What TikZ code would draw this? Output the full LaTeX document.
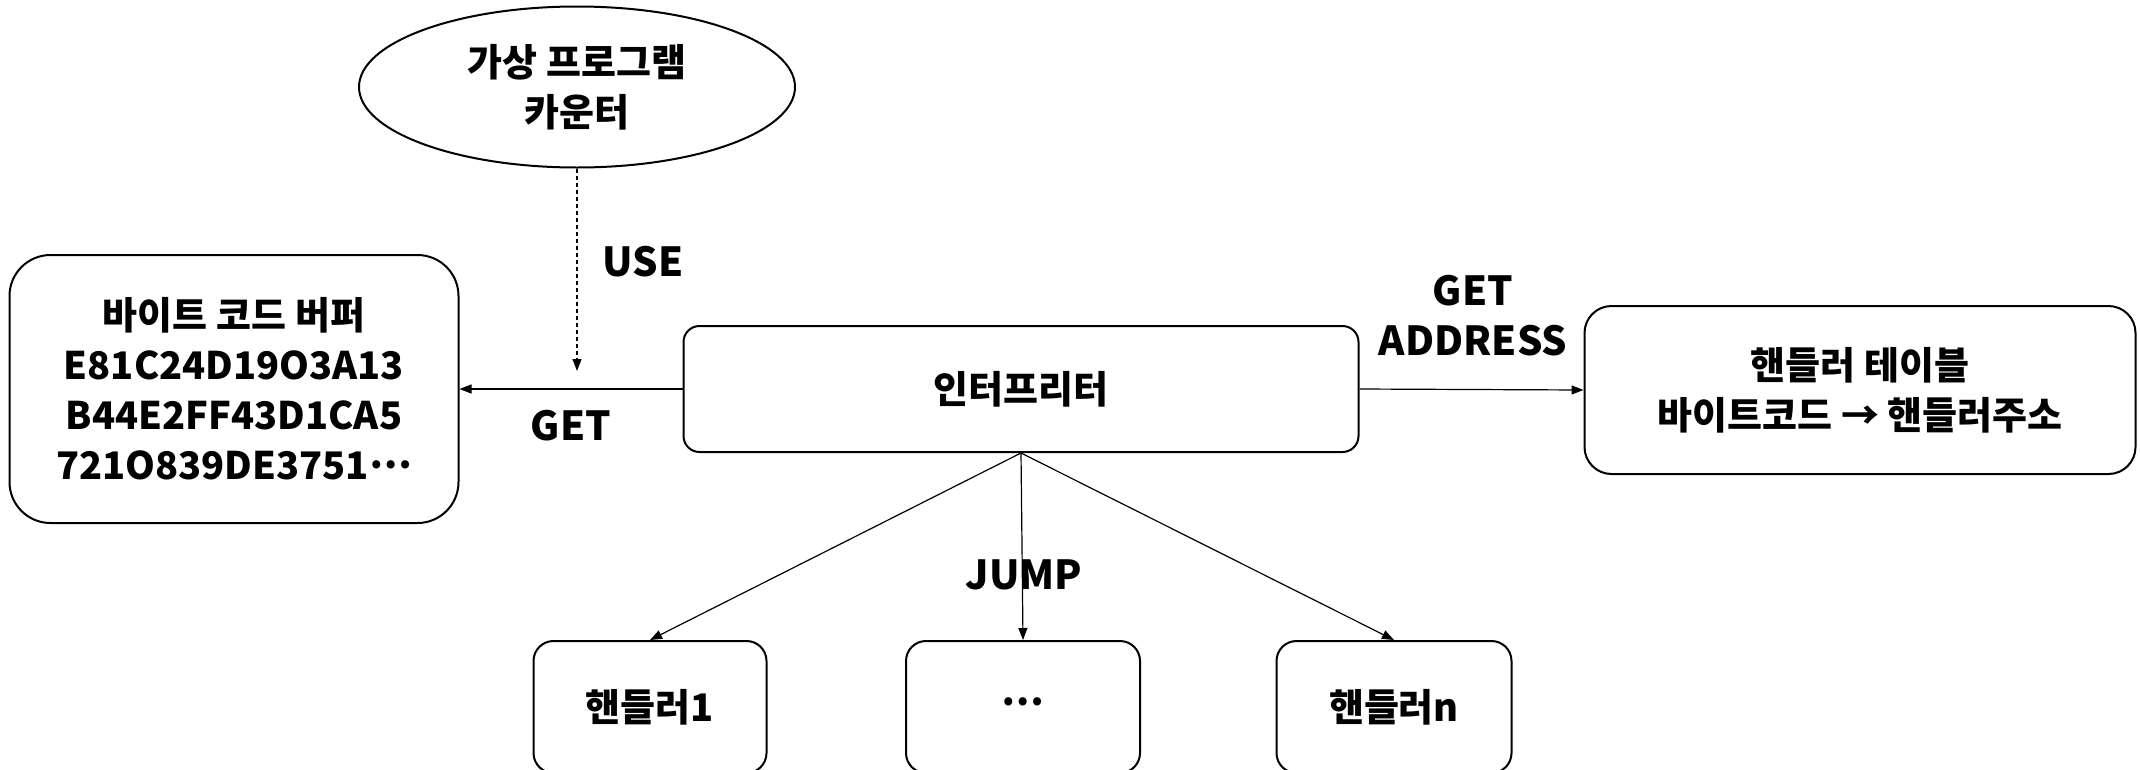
\documentclass[tikz,border=0pt]{standalone}
\usepackage{fontspec}
\setmainfont{Noto Sans CJK KR}
\usepackage{tikz}
\usetikzlibrary{arrows.meta,positioning,shapes.geometric}
\newcommand{\middots}{\raisebox{.3em}{…}}

\begin{document}
\begin{tikzpicture}[x=1pt,y=-1pt,
  box/.style={draw, line width=2pt, align=center, inner sep=0pt,
    font=\fontsize{38}{50}\selectfont\bfseries},
  link/.style={line width=1.2pt, -{Triangle[length=12pt,width=9pt]}},
  lbl/.style={font=\fontsize{40}{50}\selectfont\bfseries, align=center, inner sep=0pt}]
\useasboundingbox (0,0) rectangle (2140,769);
\clip (0,0) rectangle (2140,769);
\node[box, ellipse, minimum width=436pt, minimum height=161pt] (pc) at (577,87) {가상 프로그램\\카운터};
\node[box, rounded corners=41pt, minimum width=449pt, minimum height=268pt] (buf) at (234,389)
  {바이트 코드 버퍼\\E81C24D19O3A13\\B44E2FF43D1CA5\\721O839DE3751\middots};
\node[box, rounded corners=16pt, minimum width=675pt, minimum height=126pt] (interp) at (1021,389) {인터프리터};
\node[box, rounded corners=27pt, minimum width=551pt, minimum height=168pt] (table) at (1860,390)
  {핸들러 테이블\\바이트코드 → 핸들러주소};
\node[box, rounded corners=20pt, minimum width=233pt, minimum height=132pt] (hnd1) at (650,707) {핸들러1};
\node[box, rounded corners=20pt, minimum width=234pt, minimum height=132pt] (hndmid) at (1023,707) {\middots};
\node[box, rounded corners=20pt, minimum width=235pt, minimum height=132pt] (hndn) at (1394,707) {핸들러n};
\coordinate (use end) at (577,371);
% connectors
\draw[link, dash pattern=on 4pt off 3pt] (pc.south) -- (use end);
\draw[link] (interp.west) -- (buf.east);
\draw[link] (interp.east) -- (table.west);
\draw[link] (interp.south) -- (hnd1.north);
\draw[link] (interp.south) -- (hndmid.north);
\draw[link] (interp.south) -- (hndn.north);
% labels
\node[lbl] (use) at (643,262) {USE};
\node[lbl] (get) at (571,426) {GET};
\node[lbl] (getaddr) at (1473,316) {GET\\ADDRESS};
\node[lbl] (jump) at (1024,575) {JUMP};
\end{tikzpicture}
\end{document}
